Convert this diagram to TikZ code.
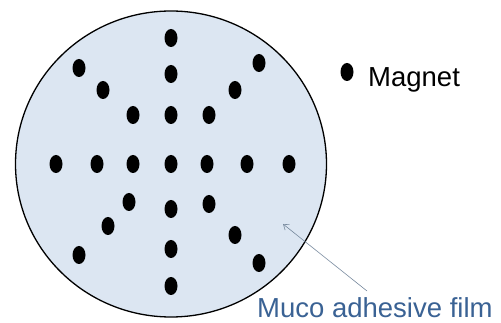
\documentclass[tikz,border=0pt]{standalone}
\usepackage{fontspec}
\setmainfont{Liberation Sans}
\usepackage{xcolor}
\usepackage{tikz}
\usetikzlibrary{arrows.meta,positioning,shapes.geometric}

\definecolor{filmfill}{RGB}{220,230,242}
\definecolor{filmtext}{RGB}{58,98,148}
\definecolor{arrgray}{RGB}{120,138,158}

\begin{document}
\begin{tikzpicture}[
  x=1pt, y=-1pt,
  film/.style={draw, line width=1.3pt, ellipse, fill=filmfill,
               minimum width=311pt, minimum height=306pt},
  mag/.style={ellipse, fill=black, inner sep=0pt,
              minimum width=13pt, minimum height=18pt},
  lbl/.style={anchor=base west, inner sep=0pt, font=\fontsize{27.5}{30}\selectfont},
  arr/.style={-{Straight Barb[length=5pt,width=7pt]}, line width=0.6pt, arrgray}
]
\useasboundingbox (0,0) rectangle (501,323);
\node[film] (disc) at (171,164) {};
% magnets on the film
\foreach \i/\x/\y in {1/171/38, 2/171/74, 3/171/115, 4/171/164, 5/171/209,
                      6/171/249, 7/171/286, 8/56/164, 9/97/164, 10/133/164,
                      11/207/164, 12/247/164, 13/289/164, 14/79/68, 15/103/90,
                      16/133/115, 17/209/115, 18/235/90, 19/259/63, 20/129/202,
                      21/209/204, 22/108/226, 23/235/235, 24/79/255, 25/259/263}
  \node[mag] (m\i) at (\x,\y) {};
% legend
\node[mag] (key) at (347,72) {};
\node[lbl] (keytxt) at (368,87) {Magnet};
\node[lbl, text=filmtext] (filmtxt) at (257,317) {Muco adhesive film};
\coordinate (tail) at (367,291);
\coordinate (head) at (283,224);
\draw[arr] (tail)--(head);
\end{tikzpicture}
\end{document}
